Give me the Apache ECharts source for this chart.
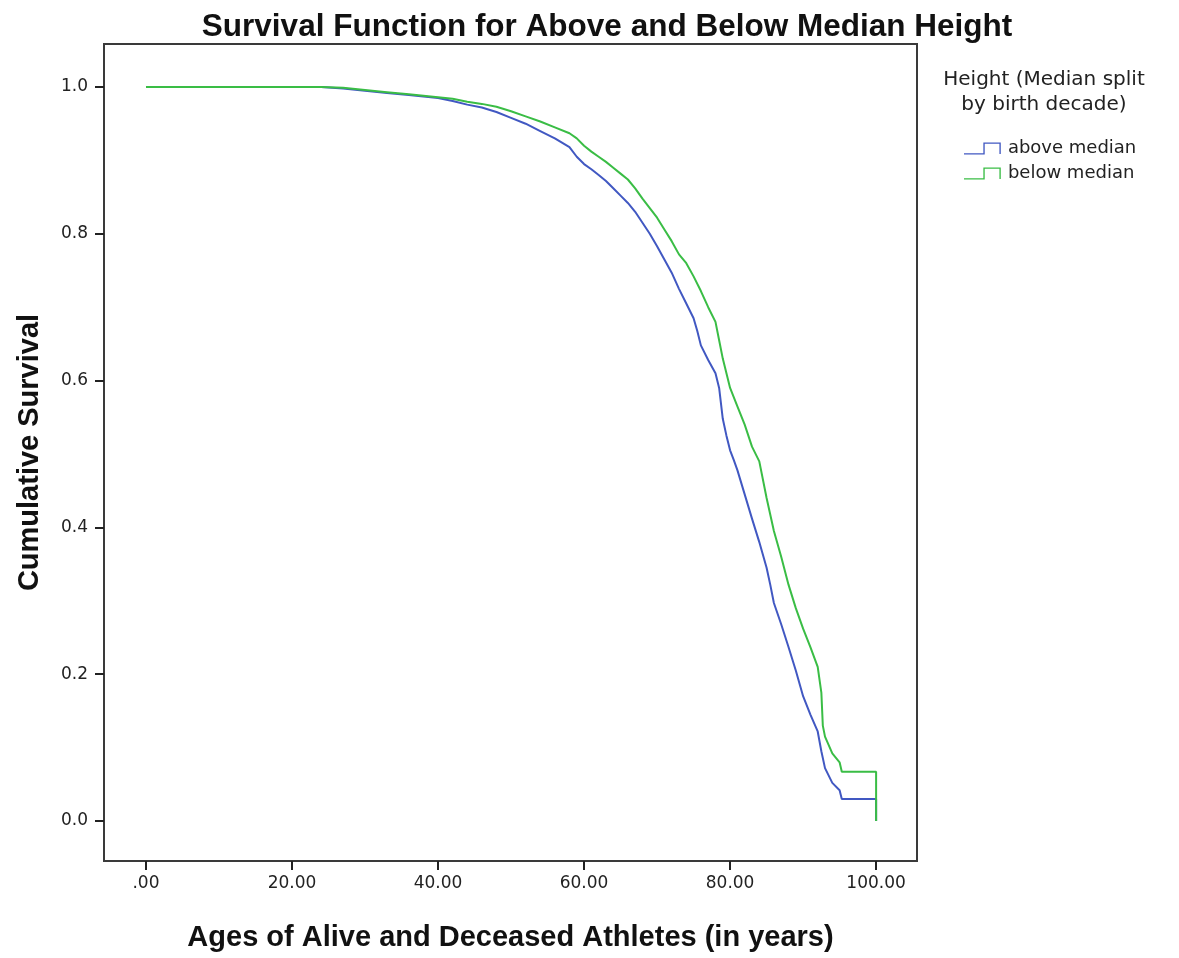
<!DOCTYPE html>
<html>
<head>
<meta charset="utf-8">
<script src="https://cdn.jsdelivr.net/npm/echarts@6/dist/echarts.min.js"></script>
<style>
html,body{margin:0;padding:0;background:#fff;}
#chart{width:1179px;height:958px;}
</style>
</head>
<body>
<div id="chart"></div>
<script>
// ---- data ----
const seriesNames = ['above median', 'below median'];
const aboveAge = [0,24,27,30,33,36,38,40,42,44,46,48,50,52,54,56,58,59,60,61,62,63,64,65,66,67,68,69,70,71,72,73,74,75,75.5,76,77,78,78.5,79,79.5,80,80.5,81,82,83,84,85,85.5,86,87,88,89,90,91,92,92.5,93,94,95,95.3,100,100];
const aboveSurv = [1.0,1.0,0.998,0.995,0.992,0.989,0.987,0.985,0.981,0.976,0.972,0.966,0.958,0.950,0.940,0.930,0.918,0.905,0.895,0.888,0.880,0.872,0.862,0.852,0.842,0.830,0.815,0.800,0.783,0.765,0.747,0.725,0.705,0.685,0.668,0.648,0.628,0.610,0.590,0.548,0.525,0.505,0.492,0.478,0.445,0.412,0.380,0.345,0.322,0.297,0.268,0.237,0.205,0.170,0.145,0.122,0.095,0.072,0.052,0.042,0.030,0.030,0.0];
const belowAge = [0,24,27,30,33,36,38,40,42,44,46,48,50,52,54,56,58,59,60,61,62,63,64,65,66,67,68,69,70,71,72,73,74,75,76,77,78,78.5,79,80,81,82,83,84,85,86,87,88,89,90,91,92,92.5,92.7,93,94,95,95.3,100,100];
const belowSurv = [1.0,1.0,0.999,0.996,0.993,0.990,0.988,0.986,0.984,0.980,0.977,0.973,0.967,0.960,0.953,0.945,0.937,0.930,0.920,0.912,0.905,0.898,0.890,0.882,0.874,0.862,0.848,0.835,0.822,0.806,0.790,0.772,0.760,0.742,0.722,0.700,0.680,0.655,0.630,0.590,0.565,0.540,0.510,0.490,0.440,0.395,0.360,0.322,0.290,0.262,0.237,0.210,0.175,0.130,0.115,0.092,0.080,0.067,0.067,0.0];
const xTicks = [0,20,40,60,80,100];
const yTicks = [0,0.2,0.4,0.6,0.8,1.0];

const pair = (xs, ys) => xs.map((x, i) => [x, ys[i]]);
const boldFont = 'Liberation Sans, Arial, sans-serif';
const labelFont = 'DejaVu Sans, Verdana, sans-serif';
const stepIcon = 'path://M0,11 L20,11 L20,0 L38,0 L38,12 L36.6,12 L36.6,1.4 L21.4,1.4 L21.4,12.4 L0,12.4 Z';

const chart = echarts.init(document.getElementById('chart'), null, {renderer: 'canvas'});
chart.setOption({
  animation: false,
  backgroundColor: '#ffffff',
  title: [
    {
      text: 'Survival Function for Above and Below Median Height',
      left: 602, top: 6, textAlign: 'center',
      textStyle: {fontFamily: boldFont, fontSize: 31.5, fontWeight: 'bold', color: '#111'}
    },
    {
      text: 'Height (Median split\nby birth decade)',
      left: 1039, top: 62, textAlign: 'center',
      textStyle: {fontFamily: labelFont, fontSize: 20, fontWeight: 'normal', color: '#222', lineHeight: 25, align: 'center'}
    }
  ],
  legend: {
    orient: 'vertical',
    left: 959, top: 133,
    itemWidth: 39, itemHeight: 12, itemGap: 4,
    icon: stepIcon,
    textStyle: {fontFamily: labelFont, fontSize: 18, color: '#222', lineHeight: 21, padding: [0,0,0,1]},
    data: seriesNames
  },
  grid: {
    left: 104, right: 262, top: 44, bottom: 97,
    show: true, borderColor: '#3a3a3a', borderWidth: 2, backgroundColor: '#fff'
  },
  xAxis: {
    type: 'value', min: -5.75, max: 105.6,
    name: 'Ages of Alive and Deceased Athletes (in years)',
    nameLocation: 'middle', nameGap: 62,
    nameTextStyle: {fontFamily: boldFont, fontSize: 29, fontWeight: 'bold', color: '#111'},
    axisLine: {show: false, onZero: false},
    splitLine: {show: false},
    axisTick: {show: true, length: 9, customValues: xTicks, lineStyle: {color: '#222', width: 2}},
    axisLabel: {
      customValues: xTicks, margin: 14,
      fontFamily: labelFont, fontSize: 17, color: '#222',
      formatter: v => v === 0 ? '.00' : v.toFixed(2)
    }
  },
  yAxis: {
    type: 'value', min: -0.0545, max: 1.0586,
    name: 'Cumulative Survival',
    nameLocation: 'middle', nameGap: 60,
    nameTextStyle: {fontFamily: boldFont, fontSize: 29, fontWeight: 'bold', color: '#111'},
    axisLine: {show: false, onZero: false},
    splitLine: {show: false},
    axisTick: {show: true, length: 9, customValues: yTicks, lineStyle: {color: '#222', width: 2}},
    axisLabel: {
      customValues: yTicks, margin: 16,
      fontFamily: labelFont, fontSize: 17, color: '#222',
      formatter: v => v.toFixed(1)
    }
  },
  series: [
    {
      name: seriesNames[0], type: 'line', showSymbol: false, symbol: 'none',
      data: pair(aboveAge, aboveSurv),
      lineStyle: {color: '#4158c2', width: 2},
      itemStyle: {color: '#4158c2'}
    },
    {
      name: seriesNames[1], type: 'line', showSymbol: false, symbol: 'none',
      data: pair(belowAge, belowSurv),
      lineStyle: {color: '#3abd45', width: 2},
      itemStyle: {color: '#3abd45'}
    }
  ]
});
</script>
</body>
</html>
